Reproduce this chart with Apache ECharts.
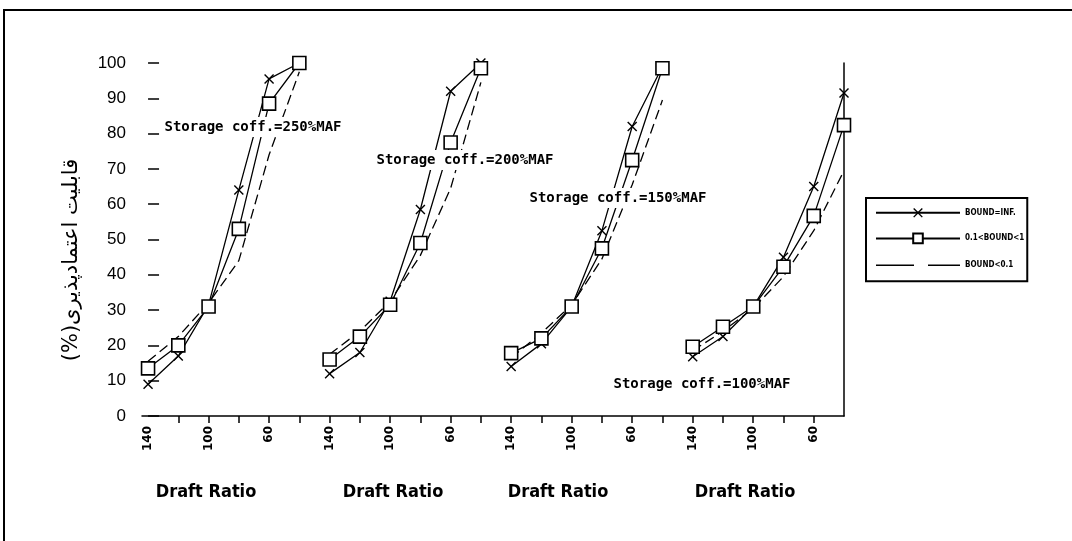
<!DOCTYPE html>
<html><head><meta charset="utf-8">
<script src="https://cdn.jsdelivr.net/npm/echarts@6/dist/echarts.min.js"></script>
<style>html,body{margin:0;padding:0;background:#fff}#c{width:1072px;height:541px}</style>
</head><body><div id="c"></div>
<script>
// x categories in every panel (draft ratio), left to right
const panelTicks = ['140', '120', '100', '80', '60', '40'];
const shownTicks = ['140', '100', '60'];
const yTicks = [0, 10, 20, 30, 40, 50, 60, 70, 80, 90, 100];
const seriesNames = ['BOUND=INF.', '0.1<BOUND<1', 'BOUND<0.1'];
const storageLabels = ['Storage coff.=250%MAF', 'Storage coff.=200%MAF', 'Storage coff.=150%MAF', 'Storage coff.=100%MAF'];
const xTitle = 'Draft Ratio';
const yTitle = '\u202Bقابلیت اعتمادپذیری(%)\u202C';

// panel 1: storage 250 %MAF
const inf250 = [9, 17, 31.5, 64, 95.5, 100];
const mid250 = [13.5, 20, 31, 53, 88.5, 100];
const low250 = [15.5, 22.5, 32, 44, 74, 97.5];
// panel 2: storage 200 %MAF
const inf200 = [12, 18, 32.5, 58.5, 92, 100];
const mid200 = [16, 22.5, 31.5, 49, 77.5, 98.5];
const low200 = [17.5, 24, 32.5, 45.5, 64.5, 94.5];
// panel 3: storage 150 %MAF
const inf150 = [14, 20.5, 31, 52.5, 82, 99];
const mid150 = [17.8, 22, 31, 47.5, 72.5, 98.5];
const low150 = [16.5, 23.5, 31.5, 44.5, 65.5, 89.5];
// panel 4: storage 100 %MAF
const inf100 = [16.8, 22.5, 31, 45, 65, 91.5];
const mid100 = [19.6, 25.3, 31, 42.3, 56.7, 82.4];
const low100 = [18.5, 24, 30.5, 39.5, 52.5, 69.5];

const panels = [
  [inf250, mid250, low250],
  [inf200, mid200, low200],
  [inf150, mid150, low150],
  [inf100, mid100, low100]
];

const X_PATH = 'path://M0,1 L1,0 L5,4 L9,0 L10,1 L6,5 L10,9 L9,10 L5,6 L1,10 L0,9 L4,5 Z';
const DASH_ICON = 'path://M0,0 H0.05 V0.05 H0 Z M0,5.3 H38 V6.7 H0 Z M52,5.3 H84 V6.7 H52 Z M83.95,11.95 H84 V12 H83.95 Z';
const styles = [
  { symbol: X_PATH, symbolSize: 10, itemStyle: { color: '#000' }, lineStyle: { color: '#000', width: 1.3, type: 'solid' } },
  { symbol: 'rect', symbolSize: 13, itemStyle: { color: '#fff', borderColor: '#000', borderWidth: 1.6 }, lineStyle: { color: '#000', width: 1.3, type: 'solid' } },
  { symbol: 'none', symbolSize: 0, itemStyle: { color: '#000' }, lineStyle: { color: '#000', width: 1.3, type: [10, 5] } }
];

const series = [];
panels.forEach((group, p) => {
  group.forEach((vals, s) => {
    series.push(Object.assign({
      type: 'line',
      name: seriesNames[s],
      xAxisIndex: 0,
      yAxisIndex: 0,
      z: s === 1 ? 4 : 3,
      showSymbol: s !== 2,
      data: vals.map((v, k) => [p * panelTicks.length + k, v])
    }, JSON.parse(JSON.stringify(styles[s])), { symbol: styles[s].symbol }));
  });
});

const nCat = panelTicks.length * panels.length; // 24
const tickVals = [];
for (let i = 1; i < nCat - 1; i++) tickVals.push(i);
const labelVals = [];
for (let i = 0; i < nCat; i++) if (shownTicks.indexOf(panelTicks[i % 6]) >= 0) labelVals.push(i);

const chart = echarts.init(document.getElementById('c'), null, { renderer: 'canvas' });
const graphics = [
  { type: 'rect', z: 0, shape: { x: 4, y: 10, width: 1080, height: 545 }, style: { fill: 'none', stroke: '#000', lineWidth: 2 } },
  { type: 'text', z: 50, x: 72, y: 260, rotation: Math.PI / 2,
    style: { text: yTitle, font: '21px "DejaVu Sans", sans-serif', fill: '#000', align: 'center', verticalAlign: 'middle', textAlign: 'center', textVerticalAlign: 'middle' } }
];
const titleCenters = [206, 393, 558, 745];
titleCenters.forEach(cx => graphics.push({ type: 'text', z: 50, x: cx, y: 492,
  style: { text: xTitle, font: 'bold 18px "Liberation Sans Narrow", "DejaVu Sans Condensed", "Liberation Sans", sans-serif', fill: '#000', align: 'center', verticalAlign: 'middle', textAlign: 'center', textVerticalAlign: 'middle' } }));
const annot = [[253, 127], [465, 160], [618, 198], [702, 384]];
annot.forEach((a, i) => graphics.push({ type: 'text', z: 60, x: a[0], y: a[1],
  style: { text: storageLabels[i], font: 'bold 14px "DejaVu Sans Mono", monospace', fill: '#000', backgroundColor: '#fff', padding: [3, 3], align: 'center', verticalAlign: 'middle', textAlign: 'center', textVerticalAlign: 'middle' } }));

chart.setOption({
  animation: false,
  backgroundColor: '#fff',
  grid: { left: 142, right: 228, top: 63, bottom: 125, containLabel: false },
  legend: {
    orient: 'vertical', left: 866, top: 198,
    padding: [10, 3, 10, 9], itemWidth: 84, itemHeight: 12, itemGap: 15,
    borderColor: '#000', borderWidth: 2, backgroundColor: '#fff',
    textStyle: { fontSize: 8, fontWeight: 'bold', color: '#000', fontFamily: '"DejaVu Sans Condensed", "DejaVu Sans", sans-serif' },
    data: [
      { name: seriesNames[0] },
      { name: seriesNames[1] },
      { name: seriesNames[2], icon: DASH_ICON }
    ]
  },
  xAxis: {
    type: 'value', min: -0.2, max: nCat - 1,
    axisLine: { show: true, lineStyle: { color: '#000', width: 1.5 } },
    axisTick: { show: true, length: 7, customValues: tickVals, lineStyle: { color: '#000', width: 1.5 } },
    axisLabel: { show: true, customValues: labelVals, rotate: 90, margin: 10, color: '#000', fontSize: 12, fontWeight: 'bold',
      fontFamily: '"DejaVu Sans", sans-serif', formatter: v => panelTicks[Math.round(v) % 6] },
    splitLine: { show: false }
  },
  yAxis: [{
    type: 'value', min: yTicks[0], max: yTicks[yTicks.length - 1], interval: 10, position: 'left',
    axisLine: { show: false },
    axisTick: { show: true, inside: true, length: 11, lineStyle: { color: '#000', width: 1.5 } },
    axisLabel: { color: '#000', fontSize: 17, margin: 16, fontFamily: '"Liberation Sans", Arial, sans-serif' },
    splitLine: { show: false }
  }, {
    type: 'value', min: 0, max: 100, interval: 10, position: 'right',
    axisLine: { show: true, lineStyle: { color: '#000', width: 1.5 } },
    axisTick: { show: false }, axisLabel: { show: false }, splitLine: { show: false }
  }],
  series: series,
  graphic: graphics
});
</script>
</body></html>
